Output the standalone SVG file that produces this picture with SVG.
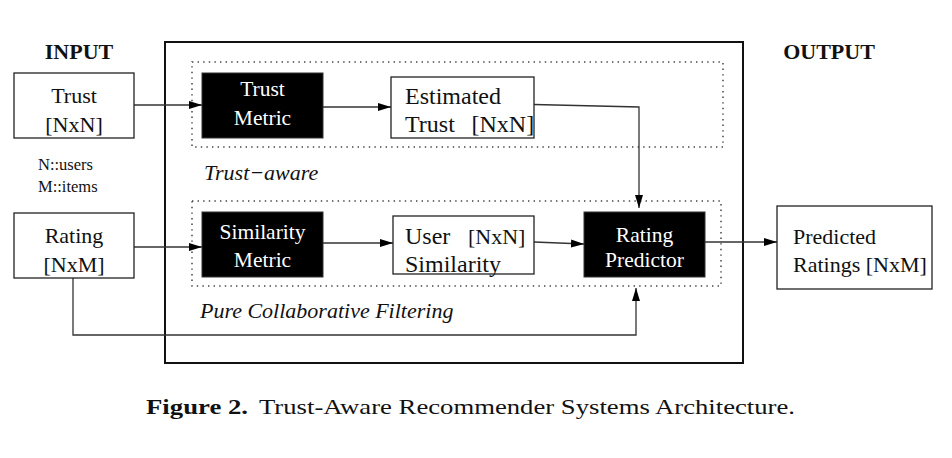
<svg xmlns="http://www.w3.org/2000/svg" width="952" height="458" viewBox="0 0 952 458">
<style>
.bg{fill:#fff}
.box{fill:#fff;stroke:#222;stroke-width:1.3}
.blk{fill:#000;stroke:#333;stroke-width:1}
.dot{fill:none;stroke:#444;stroke-width:1.5;stroke-dasharray:1.4 4.2}
.outer{fill:none;stroke:#111;stroke-width:2}
text{font-family:'Liberation Serif','DejaVu Serif',serif}
.t{font-size:22px;fill:#111}
.m{font-size:24px}
.w{font-size:21.5px;fill:#fff;text-anchor:middle}
.c{text-anchor:middle}
.b{font-weight:bold}
.i{font-style:italic}
.s{font-size:16.5px}
.cap{font-size:21px;fill:#111}
.con{fill:none;stroke:#333;stroke-width:1.3}
</style>
<defs>
<marker id="ah" markerUnits="userSpaceOnUse" markerWidth="14" markerHeight="10" refX="13" refY="4" orient="auto">
<path d="M0,0 L13,4 L0,8 z" fill="#000"/>
</marker>
</defs>
<rect class="bg" x="0" y="0" width="952" height="458"/>

<g id="labels">
<text class="t b c" x="79" y="59">INPUT</text>
<text class="t b c" x="829" y="59">OUTPUT</text>
<text class="t s" x="38" y="170">N::users</text>
<text class="t s" x="38" y="192">M::items</text>
</g>

<g id="system">
<rect class="outer" x="165" y="42" width="578" height="321"/>
</g>

<g id="trust-aware">
<rect class="dot" x="192" y="62" width="531" height="85"/>
<text class="t i" x="204" y="180">Trust−aware</text>
</g>

<g id="pure-cf">
<rect class="dot" x="192" y="201" width="529" height="85"/>
<text class="t i" x="200" y="318">Pure Collaborative Filtering</text>
</g>

<g id="connectors">
<path class="con" d="M134,105 H202" marker-end="url(#ah)"/>
<path class="con" d="M323,107 H391" marker-end="url(#ah)"/>
<path class="con" d="M534,104.5 L639,107 V208" marker-end="url(#ah)"/>
<path class="con" d="M134,247 H202" marker-end="url(#ah)"/>
<path class="con" d="M323,243 H393" marker-end="url(#ah)"/>
<path class="con" d="M534,242 L584,244" marker-end="url(#ah)"/>
<path class="con" d="M705,242 H777" marker-end="url(#ah)"/>
<path class="con" d="M73,278 V335 H636 V288" marker-end="url(#ah)"/>
</g>

<g id="trust-input">
<rect class="box" x="14" y="73" width="120" height="65"/>
<text class="t c" x="74" y="102.5">Trust</text>
<text class="t c" x="74" y="132">[NxN]</text>
</g>

<g id="rating-input">
<rect class="box" x="14" y="213" width="120" height="65"/>
<text class="t c" x="74" y="242.5">Rating</text>
<text class="t c" x="74" y="271.5">[NxM]</text>
</g>

<g id="trust-metric">
<rect class="blk" x="202" y="73" width="121" height="65"/>
<text class="w" x="262.5" y="96">Trust</text>
<text class="w" x="262.5" y="125">Metric</text>
</g>

<g id="estimated-trust">
<rect class="box" x="391" y="77" width="143" height="61"/>
<text class="t m" x="405" y="104">Estimated</text>
<text class="t m" x="405" y="131.5">Trust</text>
<text class="t m" x="471.5" y="131.5">[NxN]</text>
</g>

<g id="similarity-metric">
<rect class="blk" x="202" y="212" width="121" height="65"/>
<text class="w" x="262.5" y="238.5">Similarity</text>
<text class="w" x="262.5" y="266.5">Metric</text>
</g>

<g id="user-similarity">
<rect class="box" x="393" y="216" width="141" height="58"/>
<text class="t m" x="405" y="243.5">User</text>
<text class="t" x="468" y="243.5">[NxN]</text>
<text class="t m" x="405" y="271.5">Similarity</text>
</g>

<g id="rating-predictor">
<rect class="blk" x="584" y="212" width="121" height="65"/>
<text class="w" x="644.5" y="241.5">Rating</text>
<text class="w" x="644.5" y="266.5">Predictor</text>
</g>

<g id="predicted-ratings">
<rect class="box" x="777" y="206" width="155" height="83"/>
<text class="t" x="793" y="243.5">Predicted</text>
<text class="t" x="793" y="271.5">Ratings [NxM]</text>
</g>

<g id="caption">
<text class="cap b" x="146" y="414" textLength="102" lengthAdjust="spacingAndGlyphs">Figure 2.</text>
<text class="cap" x="259" y="414" textLength="536" lengthAdjust="spacingAndGlyphs">Trust-Aware Recommender Systems Architecture.</text>
</g>
</svg>
